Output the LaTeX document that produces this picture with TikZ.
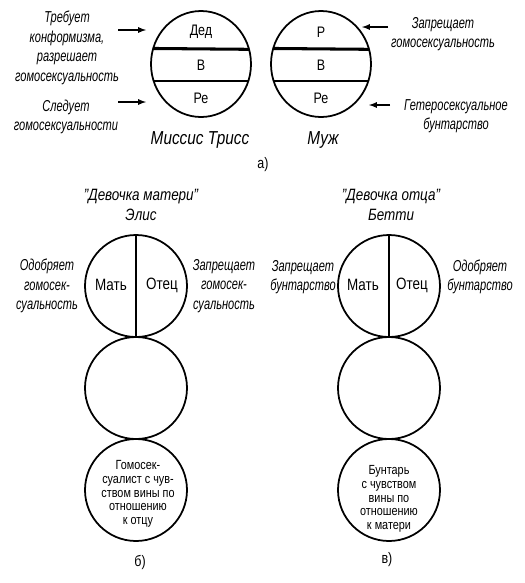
\documentclass[tikz,border=0pt]{standalone}
\usepackage{fontspec}
\setmainfont{Liberation Sans}[FakeStretch=0.82]
\newfontfamily\narrowfont{Liberation Sans}[FakeStretch=0.7]
\usetikzlibrary{shapes.geometric}

\tikzset{
  ring/.style={draw, circle, line width=1.5pt, minimum size=30.6mm, inner sep=0pt, outer sep=0pt},
  oval/.style={draw, ellipse, line width=1.5pt, minimum width=30mm, minimum height=31.8mm, inner sep=0pt, outer sep=0pt},
  note/.style={font=\narrowfont\fontsize{13.5}{16.6}\selectfont\itshape, align=center},
  title/.style={font=\fontsize{16}{18}\selectfont\itshape, align=center},
  girl/.style={font=\fontsize{14}{16.8}\selectfont\itshape, align=center},
  part/.style={font=\fontsize{13}{16}\selectfont},
  half/.style={font=\fontsize{14}{16}\selectfont},
  inside/.style={font=\fontsize{11.3}{11.7}\selectfont, align=center},
  pointer/.style={-latex, line width=1.3pt},
}

\begin{document}
\begin{tikzpicture}[x=0.3mm, y=-0.3mm]
\useasboundingbox (0,0) rectangle (525,583);
% a) Mrs Triss and husband
\node[oval] (triss) at (201,64) {};
\node[oval] (muzh) at (321,64) {};
\draw[line width=2.6pt] (triss.162.63) -- (triss.17.37);
\draw[line width=1.5pt] (triss.200.94) -- (triss.-20.94);
\draw[line width=2.6pt] (muzh.162.63) -- (muzh.17.37);
\draw[line width=1.5pt] (muzh.200.94) -- (muzh.-20.94);
\node[part] (ded) at (201,32) {Дед};
\node[part] (vt) at (201,65) {В};
\node[part] (ret) at (201,98) {Ре};
\node[part] (pm) at (321,32) {Р};
\node[part] (vm) at (321,65) {В};
\node[part] (rem) at (321,98) {Ре};
\node[title] (nametriss) at (200,140) {Миссис Трисс};
\node[title] (namemuzh) at (323,140) {Муж};
\node[note] (trebuet) at (67,48) {Требует\\конформизма,\\разрешает\\гомосексуальность};
\node[note] (sleduet) at (66,117) {Следует\\гомосексуальности};
\node[note] (zapret) at (443,34) {Запрещает\\гомосексуальность};
\node[note] (getero) at (456,116) {Гетеросексуальное\\бунтарство};
\coordinate (t1) at (118,30);
\coordinate (t1e) at (146,30);
\coordinate (t2) at (118,102);
\coordinate (t2e) at (146,102);
\coordinate (m1) at (388,27);
\coordinate (m1e) at (362,27);
\coordinate (m2) at (390,105);
\coordinate (m2e) at (369,105);
\draw[pointer] (t1) -- (t1e);
\draw[pointer] (t2) -- (t2e);
\draw[pointer] (m1) -- (m1e);
\draw[pointer] (m2) -- (m2e);
\node[part] (capa) at (263,165) {а)};
% b) Alice
\node[girl] (alice) at (141,205) {"Девочка матери"\\Элис};
\node[ring] (b1) at (136,286) {};
\node[ring] (b2) at (136,388) {};
\node[ring] (b3) at (136,490) {};
\draw[line width=1.1pt] (b1.north) -- (b1.south);
\node[half] (bmat) at (111,285) {Мать};
\node[half] (botec) at (162,285) {Отец};
\node[note] (bodobr) at (47,286) {Одобряет\\гомосек-\\суальность};
\node[note] (bzapr) at (224,286) {Запрещает\\гомосек-\\суальность};
\node[inside] (bgomo) at (138,494) {Гомосек-\\суалист с чув-\\ством вины по\\отношению\\к отцу};
\node[part] (capb) at (140,562) {б)};
% c) Betty
\node[girl] (betty) at (391,205) {"Девочка отца"\\Бетти};
\node[ring] (c1) at (389,286) {};
\node[ring] (c2) at (389,388) {};
\node[ring] (c3) at (389,490) {};
\draw[line width=1.1pt] (c1.north) -- (c1.south);
\node[half] (cmat) at (363,285) {Мать};
\node[half] (cotec) at (412,285) {Отец};
\node[note] (czapr) at (303,277) {Запрещает\\бунтарство};
\node[note] (codobr) at (480,277) {Одобряет\\бунтарство};
\node[inside] (cbunt) at (389,499) {Бунтарь\\с чувством\\вины по\\отношению\\к матери};
\node[part] (capc) at (387,560) {в)};
\end{tikzpicture}
\end{document}
